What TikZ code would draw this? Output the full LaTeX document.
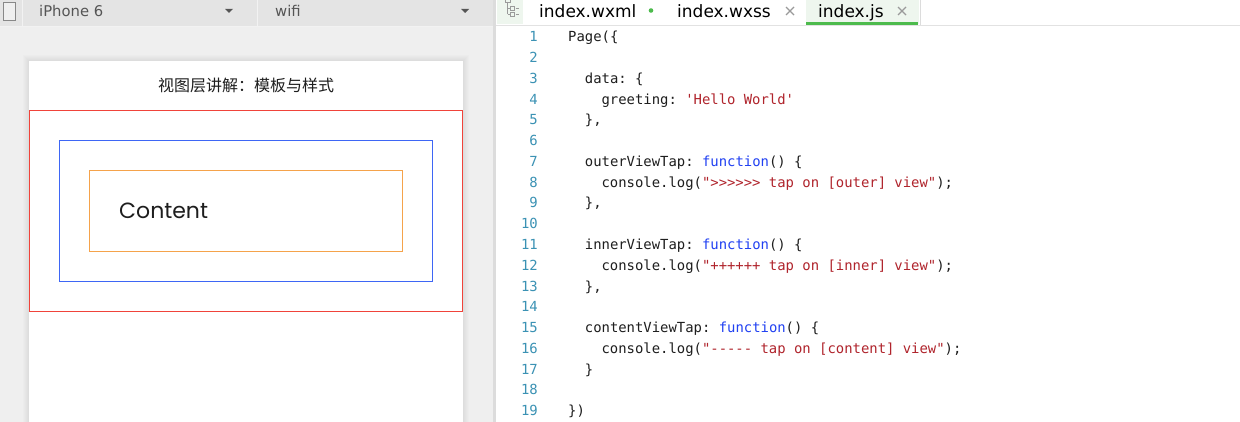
\documentclass[tikz,border=0pt]{standalone}
\usepackage{fontspec}
\setmainfont{DejaVu Sans}
\setmonofont{DejaVu Sans Mono}
\newfontfamily\cjkfont{Noto Sans CJK SC}
\newfontfamily\contentface{Poppins}
\usetikzlibrary{positioning}

\definecolor{barGray}{HTML}{E4E4E4}
\definecolor{barLine}{HTML}{F2F2F2}
\definecolor{barText}{HTML}{555555}
\definecolor{panelGray}{HTML}{EFEFEF}
\definecolor{dividerGray}{HTML}{DCDCDC}
\definecolor{tabLine}{HTML}{E2E2E2}
\definecolor{tabGreen}{HTML}{EEF6EE}
\definecolor{barGreen}{HTML}{4DBB4D}
\definecolor{closeGray}{HTML}{9A9A9A}
\definecolor{lineNo}{HTML}{3B92B4}
\definecolor{kwBlue}{HTML}{2141F2}
\definecolor{strRed}{HTML}{B0242C}
\definecolor{codeBlack}{HTML}{1E1E1E}
\definecolor{boxRed}{HTML}{F0433A}
\definecolor{boxBlue}{HTML}{3E66F5}
\definecolor{boxOrange}{HTML}{F5A34B}

\newcommand\codefont{\ttfamily\fontsize{13.9}{16}\selectfont}
\newcommand\tabfont{\fontsize{17}{20}\selectfont}
\newcommand\barfont{\fontsize{14.8}{18}\selectfont}
\newcommand\kwd[1]{\textcolor{kwBlue}{#1}}
\newcommand\strg[1]{\textcolor{strRed}{#1}}

\tikzset{
  codeline/.style={anchor=base west, inner sep=0pt, font=\codefont, text=codeBlack}
}
\tikzset{
  lineno/.style={anchor=base east, inner sep=0pt, font=\codefont, text=lineNo}
}
\tikzset{
  tablabel/.style={anchor=base west, inner sep=0pt, font=\tabfont, text=black}
}
\tikzset{
  barlabel/.style={anchor=base west, inner sep=0pt, font=\barfont, text=barText}
}
\tikzset{
  viewbox/.style={draw=#1, line width=1.1pt, inner sep=0pt, outer sep=0pt}
}
\tikzset{
  closemark/.style={draw=closeGray, line width=1.1pt}
}

\begin{document}
\begin{tikzpicture}[x=1pt, y=-1pt]
  \useasboundingbox (0,0) rectangle (1240,422);

  % simulator side
  \fill[panelGray] (0,0) rectangle (493,422);
  \fill[barGray] (0,0) rectangle (493,26);
  \draw[barLine] (0,26.5) -- (493,26.5);
  \draw[barLine] (22.5,0) -- (22.5,26);
  \draw[barLine] (257.5,0) -- (257.5,26);
  \draw[barText!70, fill=barGray!60] (3.5,2.5) rectangle (15.5,20.5);
  \node[barlabel] (device) at (39,16.5) {iPhone 6};
  \node[barlabel] (network) at (275,16.5) {wifi};
  \fill[barText] (225,9) -- (233,9) -- (229,13) -- cycle;
  \fill[barText] (461,9) -- (469,9) -- (465,13) -- cycle;
  \fill[dividerGray] (493,0) rectangle (496,422);

  \foreach \s in {1,...,6}
    \fill[black, opacity=0.012] (29-\s,61-\s) rectangle (463+\s,422);
  \fill[white] (29,61) rectangle (463,422);
  \node[font=\cjkfont\fontsize{16}{18}\selectfont, text=codeBlack] (title) at (246,85) {视图层讲解：模板与样式};

  \node[viewbox=boxRed, minimum width=433, minimum height=201] (outerView) at (246,211) {};
  \node[viewbox=boxBlue, minimum width=373, minimum height=141] (innerView) at (246,211) {};
  \node[viewbox=boxOrange, minimum width=313, minimum height=81] (contentView) at (246,211) {};
  \node[anchor=west, inner sep=0pt, font=\contentface\fontsize{22}{26}\selectfont, text=codeBlack] (contentText) at ([xshift=29.5]contentView.west) {Content};

  % editor side
  \fill[white] (496,0) rectangle (1240,422);
  \draw[tabLine] (496,25.5) -- (1240,25.5);
  \fill[tabGreen] (497,0) rectangle (523,24);
  \draw[closeGray, line width=0.8pt] (505,0) -- (505,2) -- (510,2) -- (510,0)
    (507.5,2) -- (507.5,14) (507.5,8) -- (510,8) (507.5,14) -- (510,14)
    (510,6) rectangle (514,10) (510,12) rectangle (514,16)
    (515.5,8) -- (519,8) (515.5,14) -- (519,14);

  \node[tablabel] (tabWxml) at (539,18) {index.wxml};
  \fill[barGreen] (651,10.5) circle (2.3);
  \node[tablabel] (tabWxss) at (677,18) {index.wxss};
  \draw[closemark] (786,7) -- (794,15) (786,15) -- (794,7);
  \fill[tabGreen] (806,0) rectangle (919,24);
  \draw[dividerGray] (920,0) -- (920,25);
  \fill[barGreen] (806,22.5) rectangle (918,25);
  \node[tablabel] (tabJs) at (818,18) {index.js};
  \draw[closemark] (898,7) -- (906,15) (898,15) -- (906,7);

  \foreach \n in {1,...,19}
    \node[lineno] (ln\n) at (538,{42+20.75*(\n-1)}) {\n};

  \node[codeline] (c1) at (568,42) {Page(\{};
  \node[codeline] (c3) at (584.7,83.5) {data: \{};
  \node[codeline] (c4) at (601.4,104.25) {greeting: \strg{'Hello World'}};
  \node[codeline] (c5) at (584.7,125) {\},};
  \node[codeline] (c7) at (584.7,166.5) {outerViewTap: \kwd{function}() \{};
  \node[codeline] (c8) at (601.4,187.25) {console.log(\strg{">>>>>> tap on [outer] view"});};
  \node[codeline] (c9) at (584.7,208) {\},};
  \node[codeline] (c11) at (584.7,249.5) {innerViewTap: \kwd{function}() \{};
  \node[codeline] (c12) at (601.4,270.25) {console.log(\strg{"++++++ tap on [inner] view"});};
  \node[codeline] (c13) at (584.7,291) {\},};
  \node[codeline] (c15) at (584.7,332.5) {contentViewTap: \kwd{function}() \{};
  \node[codeline] (c16) at (601.4,353.25) {console.log(\strg{"----- tap on [content] view"});};
  \node[codeline] (c17) at (584.7,374) {\}};
  \node[codeline] (c19) at (568,415.5) {\})};
\end{tikzpicture}
\end{document}
